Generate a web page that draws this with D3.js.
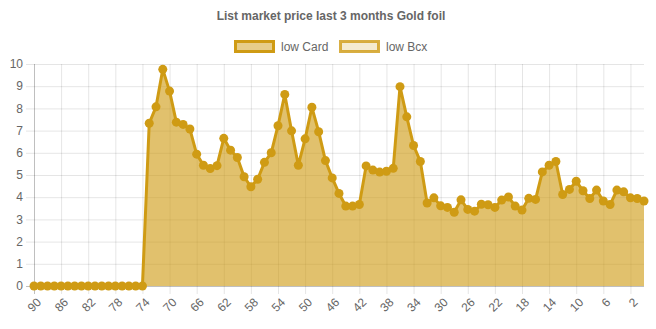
<!DOCTYPE html>
<html>
<head>
<meta charset="utf-8">
<script src="https://cdn.jsdelivr.net/npm/d3@7"></script>
<style>
  html, body { margin: 0; padding: 0; background: #fff; }
  svg { display: block; font-family: "Liberation Sans", Arial, Helvetica, sans-serif; }
</style>
</head>
<body>
<svg id="chart" width="656" height="329"></svg>
<script>
const title = "List market price last 3 months Gold foil";
const seriesNames = ["low Card", "low Bcx"];
const categories = d3.range(90, -1, -1).map(String);
const lowCard = [
  0,0,0,0,0,0,0,0,0,0,0,0,0,0,0,0,0,
  7.33,8.07,9.76,8.78,7.38,7.28,7.07,5.94,5.44,5.29,5.42,6.65,6.12,5.79,4.92,4.47,4.81,5.57,
  6.0,7.22,8.63,6.99,5.44,6.63,8.05,6.95,5.65,4.87,4.17,3.6,3.6,3.67,5.41,5.22,5.13,5.17,5.3,
  8.98,7.62,6.33,5.61,3.74,3.97,3.61,3.54,3.32,3.88,3.45,3.37,3.68,3.66,3.54,3.87,4.01,3.6,3.42,
  3.95,3.9,5.14,5.44,5.61,4.12,4.35,4.72,4.29,3.94,4.32,3.83,3.67,4.32,4.24,3.97,3.94,3.83
];
const yTicks = [0,1,2,3,4,5,6,7,8,9,10];
const xTickLabels = d3.range(90, 0, -4).map(String);

const lineColor = "#cf9b14";
const fillColor = "rgba(207,155,20,0.62)";
const legendFills = ["rgba(207,155,20,0.5)", "rgba(207,155,20,0.2)"];
const legendStrokes = ["#cf9b14", "rgba(207,155,20,0.8)"];

const svg = d3.select("#chart");
const pL = 34, pR = 644, pT = 64, pB = 286;

const x = d3.scalePoint().domain(categories).range([pL, pR]).padding(0);
const y = d3.scaleLinear().domain([0, 10]).range([pB, pT]);

// horizontal grid
const gridColor = "rgba(0,0,0,0.1)";
svg.append("g").selectAll("line").data(yTicks).join("line")
  .attr("x1", pL - 8).attr("x2", pR)
  .attr("y1", d => y(d) + 0.5).attr("y2", d => y(d) + 0.5)
  .attr("stroke", d => d === 0 ? "rgba(0,0,0,0.25)" : gridColor).attr("stroke-width", 1);
// vertical grid
svg.append("g").selectAll("line").data(xTickLabels).join("line")
  .attr("x1", d => x(d) + 0.5).attr("x2", d => x(d) + 0.5)
  .attr("y1", pT).attr("y2", pB + 8)
  .attr("stroke", (d, i) => i === 0 ? "rgba(0,0,0,0.25)" : gridColor).attr("stroke-width", 1);

// y labels
svg.append("g").selectAll("text").data(yTicks).join("text")
  .attr("x", pL - 11).attr("y", d => y(d)).attr("dy", "0.35em")
  .attr("text-anchor", "end").attr("font-size", 12).attr("fill", "#666")
  .text(d => d);

// x labels
svg.append("g").selectAll("text").data(xTickLabels).join("text")
  .attr("transform", d => `translate(${x(d) + 5},${pB + 14}) rotate(-45)`)
  .attr("text-anchor", "end").attr("font-size", 12).attr("fill", "#666")
  .attr("dy", "0.35em")
  .text(d => d);

const pts = categories.map((c, i) => ({c, v: lowCard[i]}));

svg.append("path").datum(pts)
  .attr("fill", fillColor)
  .attr("d", d3.area().x(d => x(d.c)).y0(y(0)).y1(d => y(d.v)));

svg.append("path").datum(pts)
  .attr("fill", "none").attr("stroke", lineColor).attr("stroke-width", 3)
  .attr("stroke-linejoin", "round")
  .attr("d", d3.line().x(d => x(d.c)).y(d => y(d.v)));

svg.append("g").selectAll("circle").data(pts).join("circle")
  .attr("cx", d => x(d.c)).attr("cy", d => y(d.v)).attr("r", 4.5)
  .attr("fill", lineColor);

// title
svg.append("text").attr("x", 331).attr("y", 20)
  .attr("text-anchor", "middle").attr("font-size", 12).attr("font-weight", "bold")
  .attr("fill", "#666").text(title);

// legend
const legX = [234, 339];
const leg = svg.append("g").selectAll("g").data(seriesNames).join("g")
  .attr("transform", (d, i) => `translate(${legX[i]},40)`);
leg.append("rect").attr("x", 1.5).attr("y", 1.5).attr("width", 38).attr("height", 10)
  .attr("fill", (d, i) => legendFills[i]).attr("stroke", (d, i) => legendStrokes[i]).attr("stroke-width", 3);
leg.append("text").attr("x", 47).attr("y", 6.5).attr("dy", "0.35em")
  .attr("font-size", 12).attr("fill", "#666").text(d => d);
</script>
</body>
</html>
